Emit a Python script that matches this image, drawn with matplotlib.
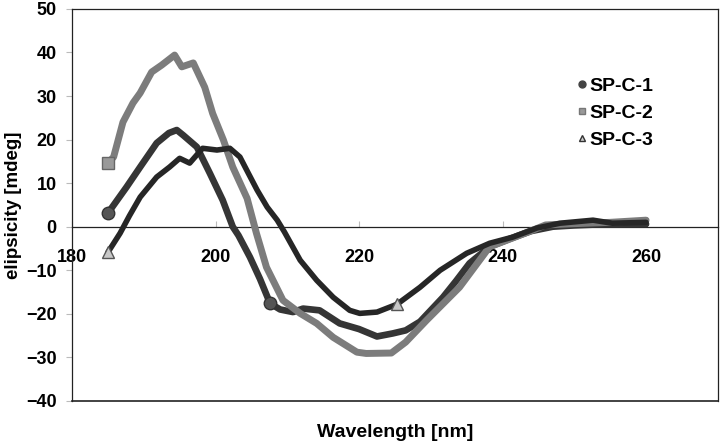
import matplotlib
matplotlib.use("Agg")
import matplotlib.pyplot as plt
from matplotlib.lines import Line2D

plt.rcParams['font.family'] = ['Liberation Sans', 'DejaVu Sans']
plt.rcParams['font.weight'] = 'bold'

# values
wl_1 = [185, 187.6, 189.5, 191.8, 193.5, 194.6, 195.5, 197.4, 199.2, 201, 202.4,
        203.2, 204.8, 206.2, 207.6, 209, 210.8, 212.2, 214.5, 217.3, 220, 222.5,
        224.7, 226.5, 228.5, 231.7, 233.5, 235.4, 238.2, 241, 244, 247, 250, 253,
        256, 260]
cd_1 = [3.1, 9.1, 13.7, 19.2, 21.5, 22.2, 21, 18.3, 12.3, 6.1, 0,
        -2, -7, -12, -17.6, -19, -19.6, -18.8, -19.2, -22.2, -23.5, -25.2,
        -24.5, -23.8, -21.8, -16.2, -12.5, -8.4, -4.6, -2.8, -1, 0, 0.3, 0.5,
        0.5, 0.6]

wl_2 = [185, 185.8, 187.1, 188.5, 189.5, 191.1, 192.5, 194.3, 195.3, 196.9, 198.5,
        199.6, 201.1, 202.4, 204.4, 205.7, 207.1, 209.4, 211.8, 214.1, 216.4,
        219.7, 221, 224.5, 226.5, 229.4, 234, 238.2, 240.6, 244.2, 246, 250, 255,
        260]
cd_2 = [14.6, 16, 24, 28.4, 30.7, 35.5, 37.1, 39.4, 36.7, 37.6, 32,
        26, 19.9, 13.7, 6.5, -1.5, -9.3, -16.9, -19.9, -22.2, -25.4,
        -28.8, -29.1, -29, -26.5, -21.5, -13.9, -4.6, -3.1, -0.8, 0.4, 0.7, 1,
        1.5]

wl_3 = [185, 186.7, 188, 189.5, 191.8, 193.6, 195, 196.4, 198.2, 200.2, 202,
        203.4, 204.5, 205.8, 207.2, 208.6, 209.6, 211.8, 214.1, 216.4, 218.7,
        220.1, 222.5, 225.3, 228.5, 231.3, 235, 238.2, 241.4, 244.8, 248, 252.6,
        255.3, 260]
cd_3 = [-5.9, -1.5, 2.5, 6.8, 11.4, 13.7, 15.7, 14.6, 18, 17.6, 18,
        16, 12.5, 8.4, 4.5, 1.5, -1.2, -7.7, -12.3, -16.2, -19.2,
        -19.9, -19.6, -17.8, -13.9, -10, -6.1, -3.8, -2.4, -0.3, 0.8, 1.5,
        0.8, 1]

names = ['SP-C-1', 'SP-C-2', 'SP-C-3']
x_ticks = [180, 200, 220, 240, 260]
y_ticks = [-40, -30, -20, -10, 0, 10, 20, 30, 40, 50]

fig = plt.figure(figsize=(7.2, 4.45), dpi=100)
ax = fig.add_axes([0.1, 0.099, 0.897, 0.881])

ax.plot(wl_1, cd_1, color='#353535', lw=4.8, solid_joinstyle='round',
        solid_capstyle='round', marker='o', ms=9, markevery=[0, 14],
        mfc='#555555', mec='#333333', zorder=3)
ax.plot(wl_2, cd_2, color='#7c7c7c', lw=5.0, solid_joinstyle='round',
        solid_capstyle='round', marker='s', ms=9, markevery=[0],
        mfc='#999999', mec='#666666', zorder=4)
ax.plot(wl_3, cd_3, color='#262626', lw=4.0, solid_joinstyle='round',
        solid_capstyle='round', marker='^', ms=9, markevery=[0, 23],
        mfc='#c8c8c8', mec='#555555', zorder=5)

ax.set_xlim(180, 270)
ax.set_ylim(-40, 50)
ax.set_xticks(x_ticks)
ax.set_yticks(y_ticks)

ax.spines['bottom'].set_position(('data', 0))
for s in ['top', 'right', 'left', 'bottom']:
    ax.spines[s].set_linewidth(0.9)
    ax.spines[s].set_color('#222222')
# bottom edge of the frame
ax.plot([0, 1], [0, 0], transform=ax.transAxes, color='#222222', lw=1.2,
        clip_on=False)

ax.tick_params(axis='x', direction='in', length=4, color='#bbbbbb', pad=16,
               labelsize=13)
ax.tick_params(axis='y', direction='out', length=4, color='#bbbbbb', pad=7,
               labelsize=13)

ax.set_xlabel('Wavelength [nm]', fontsize=14, fontweight='bold')
ax.set_ylabel('elipsicity [mdeg]', fontsize=13.5, fontweight='bold')
ax.xaxis.set_label_coords(0.5, -0.058)
ax.yaxis.set_label_coords(-0.078, 0.5)

handles = [
    Line2D([], [], ls='none', marker='o', ms=5, mfc='#444444', mec='#444444'),
    Line2D([], [], ls='none', marker='s', ms=5, mfc='#999999', mec='#777777'),
    Line2D([], [], ls='none', marker='^', ms=5, mfc='#cccccc', mec='#333333'),
]
ax.legend(handles, names, loc='upper left', bbox_to_anchor=(0.78, 0.826),
          frameon=False, fontsize=14, handlelength=0.6, handletextpad=0.1,
          labelspacing=0.48, borderaxespad=0, borderpad=0)

fig.savefig('out.png', dpi=100)
